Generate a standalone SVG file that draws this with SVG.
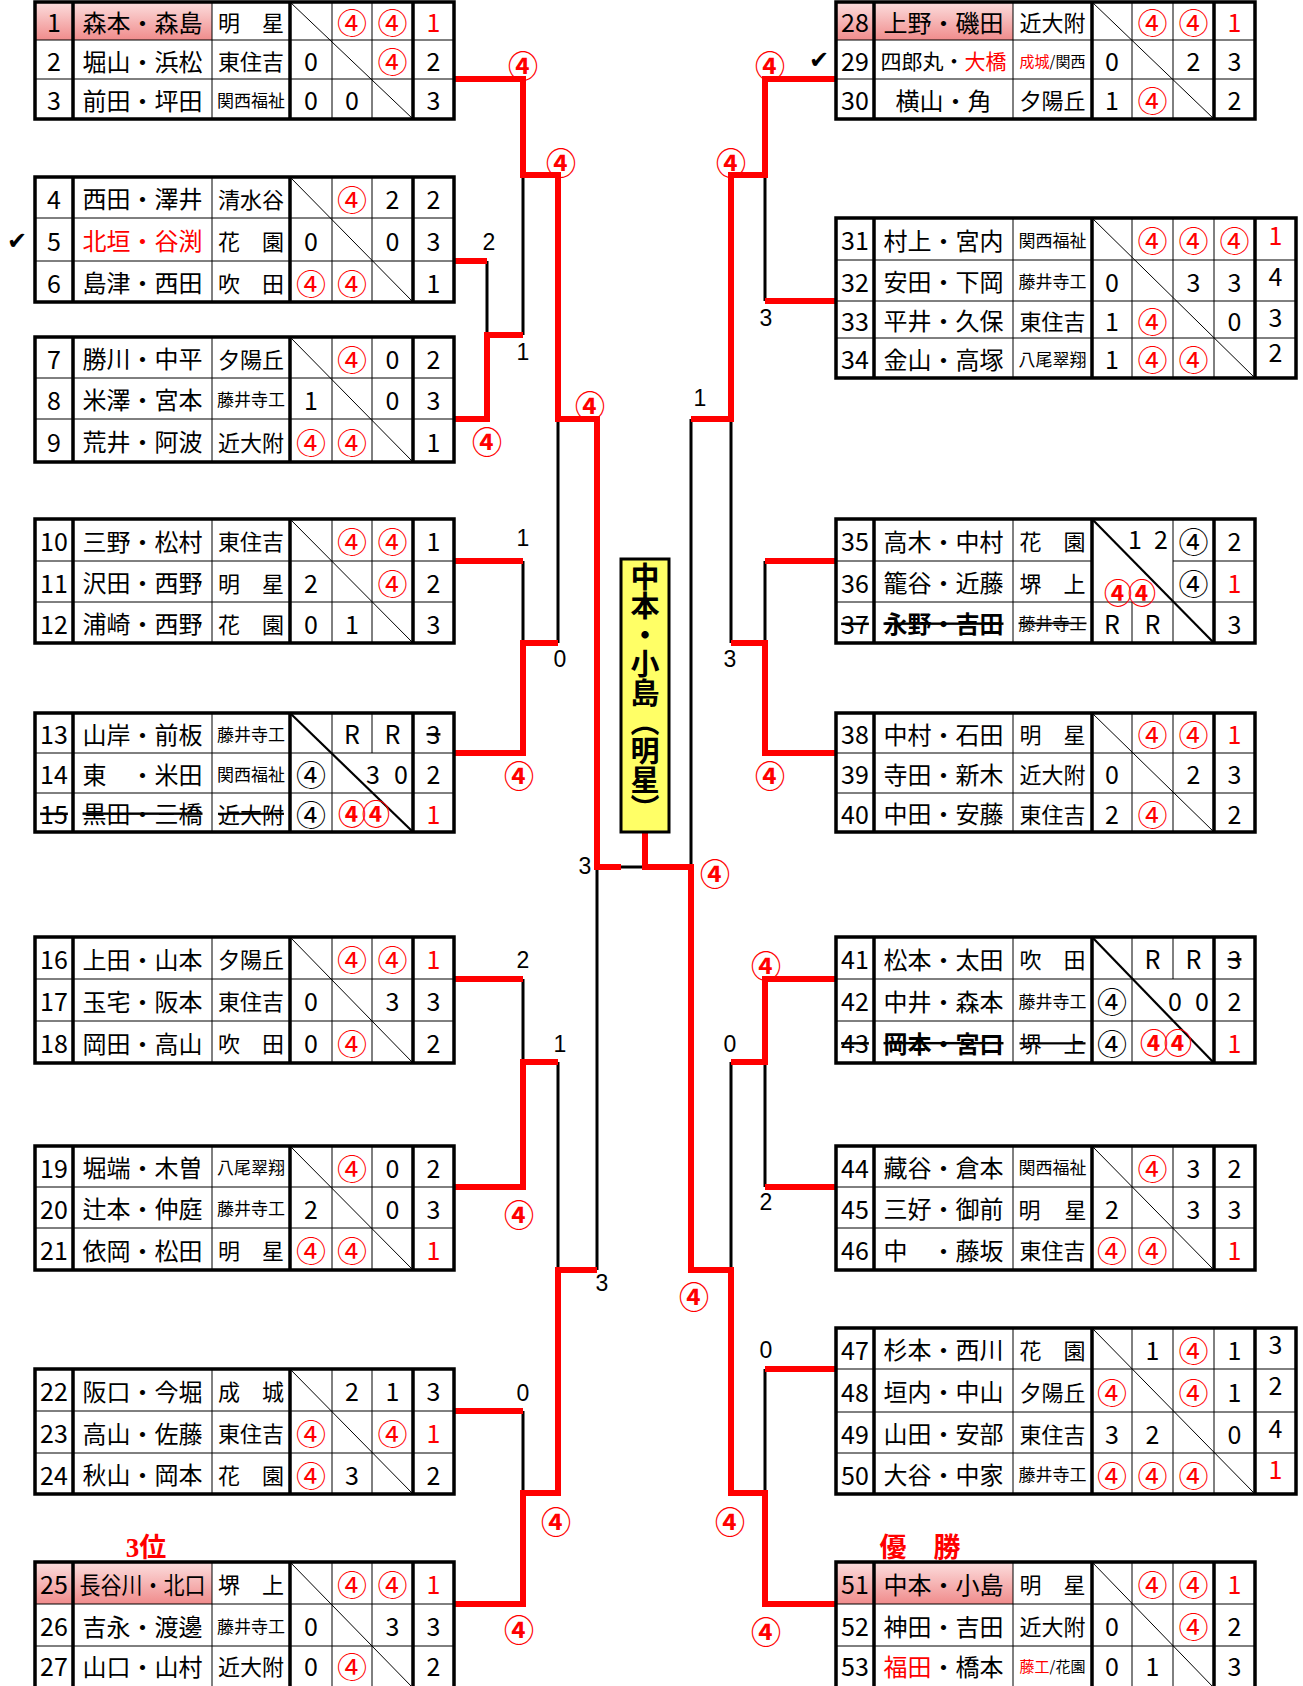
<svg xmlns="http://www.w3.org/2000/svg" width="1303" height="1686" viewBox="0 0 1303 1686">
<defs>
<linearGradient id="pk" x1="0" y1="0" x2="0" y2="1"><stop offset="0" stop-color="#fcdede"/><stop offset="1" stop-color="#f08c8c"/></linearGradient>
<style>
text{font-family:"Noto Sans CJK JP","Noto Sans",sans-serif;text-anchor:middle;dominant-baseline:central;fill:#000}
.d{font-size:25px}
.nm{font-size:24px}
.sc{font-size:22px}
.sm{font-size:17px}
.xs{font-size:15px}
.r{fill:#f00}
.c{font-size:30px;fill:#f00}
.cb{font-size:30px}
.bb{font-size:28px;font-weight:700;fill:#f00;letter-spacing:-4px}
.bd{font-weight:700}
.st{text-decoration:line-through}
.lb{font-size:30px;font-weight:700;fill:#f00}
.ln{font-family:"Liberation Sans",Arial,sans-serif;font-size:23px}
.ck{font-family:"DejaVu Sans",sans-serif;font-size:24px}
.o{fill:none;stroke:#000;stroke-width:3.5}
.t{fill:none;stroke:#000;stroke-width:1}
.k{fill:none;stroke:#000;stroke-width:3.5}
.dg{fill:none;stroke:#000;stroke-width:2.2}
.w{fill:none;stroke:#f00;stroke-width:6}
.l{fill:none;stroke:#000;stroke-width:3}
.pk{fill:url(#pk)}
.ttl{font-size:27px;font-weight:700;fill:#f00;font-family:"Liberation Serif","Noto Sans CJK JP",serif}
</style>
</defs>
<rect width="1303" height="1686" fill="#fff"/>

<g id="connectors">
<path class="l" d="M487 261V335M523 175V335M523 561V643M558 419V643M523 979V1062M558 1062V1270M523 1411V1493M597 867V1270M621 867H645M765 175V301M731 419V643M691 419V867M765 561V643M765 1062V1187M731 1062V1270M765 1369V1493"/>
<path class="w" d="M454 79H523V175H558V419H597V867H621"/>
<path class="w" d="M454 419H487V335H523"/>
<path class="w" d="M454 261H487"/>
<path class="w" d="M454 561H523"/>
<path class="w" d="M454 753H523V643H558"/>
<path class="w" d="M454 979H523"/>
<path class="w" d="M454 1187H523V1062H558"/>
<path class="w" d="M454 1411H523"/>
<path class="w" d="M454 1604H523V1493H558V1270H597"/>
<path class="w" d="M645 832V867H691V1270H731V1493H765V1604H836"/>
<path class="w" d="M836 79H765V175H731V419H691"/>
<path class="w" d="M836 301H765"/>
<path class="w" d="M836 561H765"/>
<path class="w" d="M836 753H765V643H731"/>
<path class="w" d="M836 979H765V1062H731"/>
<path class="w" d="M836 1187H765"/>
<path class="w" d="M836 1369H765"/>
</g>

<g id="champion">
<rect x="621" y="559" width="48" height="273" fill="#ffff66" stroke="#000" stroke-width="3"/>
<text x="645" y="562" style="writing-mode:vertical-rl;text-anchor:start;font-size:29px;font-weight:700">中本・小島（明星）</text>
</g>

<g id="bracket-labels">
<text class="lb" x="523" y="64">④</text>
<text class="lb" x="561" y="161">④</text>
<text class="ln" x="489" y="242">2</text>
<text class="ln" x="523" y="352">1</text>
<text class="lb" x="487" y="440">④</text>
<text class="lb" x="590" y="404">④</text>
<text class="ln" x="523" y="538">1</text>
<text class="ln" x="560" y="659">0</text>
<text class="lb" x="519" y="774">④</text>
<text class="ln" x="585" y="866">3</text>
<text class="ln" x="523" y="960">2</text>
<text class="ln" x="560" y="1044">1</text>
<text class="lb" x="519" y="1213">④</text>
<text class="ln" x="602" y="1283">3</text>
<text class="ln" x="523" y="1393">0</text>
<text class="lb" x="556" y="1520">④</text>
<text class="lb" x="519" y="1628">④</text>
<text class="lb" x="770" y="64">④</text>
<text class="ck" x="819" y="60">✔</text>
<text class="lb" x="731" y="161">④</text>
<text class="ln" x="766" y="318">3</text>
<text class="ln" x="700" y="398">1</text>
<text class="ln" x="730" y="659">3</text>
<text class="lb" x="770" y="774">④</text>
<text class="lb" x="715" y="872">④</text>
<text class="lb" x="766" y="964">④</text>
<text class="ln" x="730" y="1044">0</text>
<text class="ln" x="766" y="1202">2</text>
<text class="lb" x="694" y="1295">④</text>
<text class="ln" x="766" y="1350">0</text>
<text class="lb" x="730" y="1520">④</text>
<text class="lb" x="766" y="1630">④</text>
<text class="ck" x="17" y="241">✔</text>
<text class="ttl" x="146" y="1548">3位</text>
<text class="ttl" x="920" y="1548">優　勝</text>
</g>

<g id="group-1-3">
<rect class="pk" x="35" y="2" width="177" height="38"/>
<path class="t" d="M35 40H454M35 79H454M212 2V119M332 2V119M372 2V119M290 2L413 119"/>
<path class="k" d="M73 2V119M290 2V119M413 2V119"/>
<rect class="o" x="35" y="2" width="419" height="117"/>
<text class="d" x="54" y="21">1</text><text class="nm" x="142.5" y="21">森本・森島</text><text class="sc" x="251" y="21">明　星</text><text class="c" x="352" y="21">④</text><text class="c" x="392.5" y="21">④</text><text class="d r" x="433.5" y="21">1</text>
<text class="d" x="54" y="60">2</text><text class="nm" x="142.5" y="60">堀山・浜松</text><text class="sc" x="251" y="60">東住吉</text><text class="d" x="311" y="60">0</text><text class="c" x="392.5" y="60">④</text><text class="d" x="433.5" y="60">2</text>
<text class="d" x="54" y="99">3</text><text class="nm" x="142.5" y="99">前田・坪田</text><text class="sm" x="251" y="99">関西福祉</text><text class="d" x="311" y="99">0</text><text class="d" x="352" y="99">0</text><text class="d" x="433.5" y="99">3</text>
</g>

<g id="group-4-6">
<path class="t" d="M35 218H454M35 261H454M212 177V302M332 177V302M372 177V302M290 177L413 302"/>
<path class="k" d="M73 177V302M290 177V302M413 177V302"/>
<rect class="o" x="35" y="177" width="419" height="125"/>
<text class="d" x="54" y="197.5">4</text><text class="nm" x="142.5" y="197.5">西田・澤井</text><text class="sc" x="251" y="197.5">清水谷</text><text class="c" x="352" y="197.5">④</text><text class="d" x="392.5" y="197.5">2</text><text class="d" x="433.5" y="197.5">2</text>
<text class="d" x="54" y="239.5">5</text><text class="nm r" x="142.5" y="239.5">北垣・谷渕</text><text class="sc" x="251" y="239.5">花　園</text><text class="d" x="311" y="239.5">0</text><text class="d" x="392.5" y="239.5">0</text><text class="d" x="433.5" y="239.5">3</text>
<text class="d" x="54" y="281.5">6</text><text class="nm" x="142.5" y="281.5">島津・西田</text><text class="sc" x="251" y="281.5">吹　田</text><text class="c" x="311" y="281.5">④</text><text class="c" x="352" y="281.5">④</text><text class="d" x="433.5" y="281.5">1</text>
</g>

<g id="group-7-9">
<path class="t" d="M35 378H454M35 419H454M212 337V462M332 337V462M372 337V462M290 337L413 462"/>
<path class="k" d="M73 337V462M290 337V462M413 337V462"/>
<rect class="o" x="35" y="337" width="419" height="125"/>
<text class="d" x="54" y="357.5">7</text><text class="nm" x="142.5" y="357.5">勝川・中平</text><text class="sc" x="251" y="357.5">夕陽丘</text><text class="c" x="352" y="357.5">④</text><text class="d" x="392.5" y="357.5">0</text><text class="d" x="433.5" y="357.5">2</text>
<text class="d" x="54" y="398.5">8</text><text class="nm" x="142.5" y="398.5">米澤・宮本</text><text class="sm" x="251" y="398.5">藤井寺工</text><text class="d" x="311" y="398.5">1</text><text class="d" x="392.5" y="398.5">0</text><text class="d" x="433.5" y="398.5">3</text>
<text class="d" x="54" y="440.5">9</text><text class="nm" x="142.5" y="440.5">荒井・阿波</text><text class="sc" x="251" y="440.5">近大附</text><text class="c" x="311" y="440.5">④</text><text class="c" x="352" y="440.5">④</text><text class="d" x="433.5" y="440.5">1</text>
</g>

<g id="group-10-12">
<path class="t" d="M35 561H454M35 602H454M212 519V643M332 519V643M372 519V643M290 519L413 643"/>
<path class="k" d="M73 519V643M290 519V643M413 519V643"/>
<rect class="o" x="35" y="519" width="419" height="124"/>
<text class="d" x="54" y="540">10</text><text class="nm" x="142.5" y="540">三野・松村</text><text class="sc" x="251" y="540">東住吉</text><text class="c" x="352" y="540">④</text><text class="c" x="392.5" y="540">④</text><text class="d" x="433.5" y="540">1</text>
<text class="d" x="54" y="581.5">11</text><text class="nm" x="142.5" y="581.5">沢田・西野</text><text class="sc" x="251" y="581.5">明　星</text><text class="d" x="311" y="581.5">2</text><text class="c" x="392.5" y="581.5">④</text><text class="d" x="433.5" y="581.5">2</text>
<text class="d" x="54" y="622.5">12</text><text class="nm" x="142.5" y="622.5">浦崎・西野</text><text class="sc" x="251" y="622.5">花　園</text><text class="d" x="311" y="622.5">0</text><text class="d" x="352" y="622.5">1</text><text class="d" x="433.5" y="622.5">3</text>
</g>

<g id="group-13-15">
<path class="t" d="M35 753H454M35 793H454M212 713V832M332 713V832M372 713V753"/>
<path class="dg" d="M290 713L413 832"/>
<path class="k" d="M73 713V832M290 713V832M413 713V832"/>
<rect class="o" x="35" y="713" width="419" height="119"/>
<text class="d" x="54" y="733">13</text><text class="nm" x="142.5" y="733">山岸・前板</text><text class="sm" x="251" y="733">藤井寺工</text><text class="d" x="352" y="733">R</text><text class="d" x="392.5" y="733">R</text><text class="d st" x="433.5" y="733">3</text>
<text class="d" x="54" y="773">14</text><text class="nm" x="142.5" y="773">東　・米田</text><text class="sm" x="251" y="773">関西福祉</text><text class="cb" x="311" y="773">④</text><text class="d" x="373" y="773">3</text><text class="d" x="401" y="773">0</text><text class="d" x="433.5" y="773">2</text>
<text class="d st" x="54" y="812.5">15</text><text class="nm st" x="142.5" y="812.5">黒田・三橋</text><text class="sc st" x="251" y="812.5">近大附</text><text class="cb" x="311" y="812.5">④</text><text class="bb" x="362" y="812.5">④④</text><text class="d r" x="433.5" y="812.5">1</text>
</g>

<g id="group-16-18">
<path class="t" d="M35 979H454M35 1021H454M212 937V1063M332 937V1063M372 937V1063M290 937L413 1063"/>
<path class="k" d="M73 937V1063M290 937V1063M413 937V1063"/>
<rect class="o" x="35" y="937" width="419" height="126"/>
<text class="d" x="54" y="958">16</text><text class="nm" x="142.5" y="958">上田・山本</text><text class="sc" x="251" y="958">夕陽丘</text><text class="c" x="352" y="958">④</text><text class="c" x="392.5" y="958">④</text><text class="d r" x="433.5" y="958">1</text>
<text class="d" x="54" y="1000">17</text><text class="nm" x="142.5" y="1000">玉宅・阪本</text><text class="sc" x="251" y="1000">東住吉</text><text class="d" x="311" y="1000">0</text><text class="d" x="392.5" y="1000">3</text><text class="d" x="433.5" y="1000">3</text>
<text class="d" x="54" y="1042">18</text><text class="nm" x="142.5" y="1042">岡田・高山</text><text class="sc" x="251" y="1042">吹　田</text><text class="d" x="311" y="1042">0</text><text class="c" x="352" y="1042">④</text><text class="d" x="433.5" y="1042">2</text>
</g>

<g id="group-19-21">
<path class="t" d="M35 1187H454M35 1228H454M212 1146V1270M332 1146V1270M372 1146V1270M290 1146L413 1270"/>
<path class="k" d="M73 1146V1270M290 1146V1270M413 1146V1270"/>
<rect class="o" x="35" y="1146" width="419" height="124"/>
<text class="d" x="54" y="1166.5">19</text><text class="nm" x="142.5" y="1166.5">堀端・木曽</text><text class="sm" x="251" y="1166.5">八尾翠翔</text><text class="c" x="352" y="1166.5">④</text><text class="d" x="392.5" y="1166.5">0</text><text class="d" x="433.5" y="1166.5">2</text>
<text class="d" x="54" y="1207.5">20</text><text class="nm" x="142.5" y="1207.5">辻本・仲庭</text><text class="sm" x="251" y="1207.5">藤井寺工</text><text class="d" x="311" y="1207.5">2</text><text class="d" x="392.5" y="1207.5">0</text><text class="d" x="433.5" y="1207.5">3</text>
<text class="d" x="54" y="1249">21</text><text class="nm" x="142.5" y="1249">依岡・松田</text><text class="sc" x="251" y="1249">明　星</text><text class="c" x="311" y="1249">④</text><text class="c" x="352" y="1249">④</text><text class="d r" x="433.5" y="1249">1</text>
</g>

<g id="group-22-24">
<path class="t" d="M35 1411H454M35 1453H454M212 1369V1494M332 1369V1494M372 1369V1494M290 1369L413 1494"/>
<path class="k" d="M73 1369V1494M290 1369V1494M413 1369V1494"/>
<rect class="o" x="35" y="1369" width="419" height="125"/>
<text class="d" x="54" y="1390">22</text><text class="nm" x="142.5" y="1390">阪口・今堀</text><text class="sc" x="251" y="1390">成　城</text><text class="d" x="352" y="1390">2</text><text class="d" x="392.5" y="1390">1</text><text class="d" x="433.5" y="1390">3</text>
<text class="d" x="54" y="1432">23</text><text class="nm" x="142.5" y="1432">高山・佐藤</text><text class="sc" x="251" y="1432">東住吉</text><text class="c" x="311" y="1432">④</text><text class="c" x="392.5" y="1432">④</text><text class="d r" x="433.5" y="1432">1</text>
<text class="d" x="54" y="1473.5">24</text><text class="nm" x="142.5" y="1473.5">秋山・岡本</text><text class="sc" x="251" y="1473.5">花　園</text><text class="c" x="311" y="1473.5">④</text><text class="d" x="352" y="1473.5">3</text><text class="d" x="433.5" y="1473.5">2</text>
</g>

<g id="group-25-27">
<rect class="pk" x="35" y="1562" width="177" height="42"/>
<path class="t" d="M35 1604H454M35 1646H454M212 1562V1688M332 1562V1688M372 1562V1688M290 1562L413 1688"/>
<path class="k" d="M73 1562V1688M290 1562V1688M413 1562V1688"/>
<rect class="o" x="35" y="1562" width="419" height="126"/>
<text class="d" x="54" y="1583">25</text><text class="nm" x="142.5" y="1583" textLength="126" lengthAdjust="spacingAndGlyphs">長谷川・北口</text><text class="sc" x="251" y="1583">堺　上</text><text class="c" x="352" y="1583">④</text><text class="c" x="392.5" y="1583">④</text><text class="d r" x="433.5" y="1583">1</text>
<text class="d" x="54" y="1625">26</text><text class="nm" x="142.5" y="1625">吉永・渡邊</text><text class="sm" x="251" y="1625">藤井寺工</text><text class="d" x="311" y="1625">0</text><text class="d" x="392.5" y="1625">3</text><text class="d" x="433.5" y="1625">3</text>
<text class="d" x="54" y="1665">27</text><text class="nm" x="142.5" y="1665">山口・山村</text><text class="sc" x="251" y="1665">近大附</text><text class="d" x="311" y="1665">0</text><text class="c" x="352" y="1665">④</text><text class="d" x="433.5" y="1665">2</text>
</g>

<g id="group-28-30">
<rect class="pk" x="836" y="2" width="177" height="38"/>
<path class="t" d="M836 40H1255M836 79H1255M1013 2V119M1132 2V119M1173 2V119M1092 2L1214 119"/>
<path class="k" d="M874 2V119M1092 2V119M1214 2V119"/>
<rect class="o" x="836" y="2" width="419" height="117"/>
<text class="d" x="855" y="21">28</text><text class="nm" x="943.5" y="21">上野・磯田</text><text class="sc" x="1052.5" y="21">近大附</text><text class="c" x="1152.5" y="21">④</text><text class="c" x="1193.5" y="21">④</text><text class="d r" x="1234.5" y="21">1</text>
<text class="d" x="855" y="60">29</text><text x="943.5" y="60" style="font-size:21px">四郎丸・<tspan class="r">大橋</tspan></text><text class="xs" x="1052.5" y="60"><tspan class="r">成城</tspan>/関西</text><text class="d" x="1112" y="60">0</text><text class="d" x="1193.5" y="60">2</text><text class="d" x="1234.5" y="60">3</text>
<text class="d" x="855" y="99">30</text><text class="nm" x="943.5" y="99">横山・角</text><text class="sc" x="1052.5" y="99">夕陽丘</text><text class="d" x="1112" y="99">1</text><text class="c" x="1152.5" y="99">④</text><text class="d" x="1234.5" y="99">2</text>
</g>

<g id="group-31-34">
<path class="t" d="M836 260H1296M836 301H1296M836 338H1296M1013 218V378M1132 218V378M1173 218V378M1214 218V378M1092 218L1255 378"/>
<path class="k" d="M874 218V378M1092 218V378M1255 218V378"/>
<rect class="o" x="836" y="218" width="460" height="160"/>
<text class="d" x="855" y="239">31</text><text class="nm" x="943.5" y="239">村上・宮内</text><text class="sm" x="1052.5" y="239">関西福祉</text><text class="c" x="1152.5" y="239">④</text><text class="c" x="1193.5" y="239">④</text><text class="c" x="1234.5" y="239">④</text><text class="d r" x="1275.5" y="234">1</text>
<text class="d" x="855" y="280.5">32</text><text class="nm" x="943.5" y="280.5">安田・下岡</text><text class="sm" x="1052.5" y="280.5">藤井寺工</text><text class="d" x="1112" y="280.5">0</text><text class="d" x="1193.5" y="280.5">3</text><text class="d" x="1234.5" y="280.5">3</text><text class="d" x="1275.5" y="275">4</text>
<text class="d" x="855" y="319.5">33</text><text class="nm" x="943.5" y="319.5">平井・久保</text><text class="sc" x="1052.5" y="319.5">東住吉</text><text class="d" x="1112" y="319.5">1</text><text class="c" x="1152.5" y="319.5">④</text><text class="d" x="1234.5" y="319.5">0</text><text class="d" x="1275.5" y="316">3</text>
<text class="d" x="855" y="358">34</text><text class="nm" x="943.5" y="358">金山・高塚</text><text class="sm" x="1052.5" y="358">八尾翠翔</text><text class="d" x="1112" y="358">1</text><text class="c" x="1152.5" y="358">④</text><text class="c" x="1193.5" y="358">④</text><text class="d" x="1275.5" y="351">2</text>
</g>

<g id="group-35-37">
<path class="t" d="M836 561H1092M1173 561H1255M836 602H1255M1013 519V643M1132 602V643M1173 519V643"/>
<path class="dg" d="M1092 519L1214 643"/>
<path class="k" d="M874 519V643M1092 519V643M1214 519V643"/>
<rect class="o" x="836" y="519" width="419" height="124"/>
<text class="d" x="855" y="540">35</text><text class="nm" x="943.5" y="540">高木・中村</text><text class="sc" x="1052.5" y="540">花　園</text><text class="d" x="1135" y="538">1</text><text class="d" x="1161" y="538">2</text><text class="cb" x="1193.5" y="540">④</text><text class="d" x="1234.5" y="540">2</text>
<text class="d" x="855" y="581.5">36</text><text class="nm" x="943.5" y="581.5">籠谷・近藤</text><text class="sc" x="1052.5" y="581.5">堺　上</text><text class="bb" x="1128" y="592">④④</text><text class="cb" x="1193.5" y="581.5">④</text><text class="d r" x="1234.5" y="581.5">1</text>
<text class="d st" x="855" y="622.5">37</text><text class="nm st bd" x="943.5" y="622.5">永野・吉田</text><text class="sm st" x="1052.5" y="622.5">藤井寺工</text><text class="d" x="1112" y="622.5">R</text><text class="d" x="1152.5" y="622.5">R</text><text class="d" x="1234.5" y="622.5">3</text>
</g>

<g id="group-38-40">
<path class="t" d="M836 753H1255M836 793H1255M1013 713V832M1132 713V832M1173 713V832M1092 713L1214 832"/>
<path class="k" d="M874 713V832M1092 713V832M1214 713V832"/>
<rect class="o" x="836" y="713" width="419" height="119"/>
<text class="d" x="855" y="733">38</text><text class="nm" x="943.5" y="733">中村・石田</text><text class="sc" x="1052.5" y="733">明　星</text><text class="c" x="1152.5" y="733">④</text><text class="c" x="1193.5" y="733">④</text><text class="d r" x="1234.5" y="733">1</text>
<text class="d" x="855" y="773">39</text><text class="nm" x="943.5" y="773">寺田・新木</text><text class="sc" x="1052.5" y="773">近大附</text><text class="d" x="1112" y="773">0</text><text class="d" x="1193.5" y="773">2</text><text class="d" x="1234.5" y="773">3</text>
<text class="d" x="855" y="812.5">40</text><text class="nm" x="943.5" y="812.5">中田・安藤</text><text class="sc" x="1052.5" y="812.5">東住吉</text><text class="d" x="1112" y="812.5">2</text><text class="c" x="1152.5" y="812.5">④</text><text class="d" x="1234.5" y="812.5">2</text>
</g>

<g id="group-41-43">
<path class="t" d="M836 979H1255M836 1021H1255M1013 937V1063M1132 937V1063M1173 937V979"/>
<path class="dg" d="M1092 937L1214 1063"/>
<path class="k" d="M874 937V1063M1092 937V1063M1214 937V1063"/>
<rect class="o" x="836" y="937" width="419" height="126"/>
<text class="d" x="855" y="958">41</text><text class="nm" x="943.5" y="958">松本・太田</text><text class="sc" x="1052.5" y="958">吹　田</text><text class="d" x="1152.5" y="958">R</text><text class="d" x="1193.5" y="958">R</text><text class="d st" x="1234.5" y="958">3</text>
<text class="d" x="855" y="1000">42</text><text class="nm" x="943.5" y="1000">中井・森本</text><text class="sm" x="1052.5" y="1000">藤井寺工</text><text class="cb" x="1112" y="1000">④</text><text class="d" x="1175" y="1000">0</text><text class="d" x="1202" y="1000">0</text><text class="d" x="1234.5" y="1000">2</text>
<text class="d st" x="855" y="1042">43</text><text class="nm st bd" x="943.5" y="1042">岡本・宮口</text><text class="sc st" x="1052.5" y="1042">堺　上</text><text class="cb" x="1112" y="1042">④</text><text class="bb" x="1164" y="1042">④④</text><text class="d r" x="1234.5" y="1042">1</text>
</g>

<g id="group-44-46">
<path class="t" d="M836 1187H1255M836 1228H1255M1013 1146V1270M1132 1146V1270M1173 1146V1270M1092 1146L1214 1270"/>
<path class="k" d="M874 1146V1270M1092 1146V1270M1214 1146V1270"/>
<rect class="o" x="836" y="1146" width="419" height="124"/>
<text class="d" x="855" y="1166.5">44</text><text class="nm" x="943.5" y="1166.5">藏谷・倉本</text><text class="sm" x="1052.5" y="1166.5">関西福祉</text><text class="c" x="1152.5" y="1166.5">④</text><text class="d" x="1193.5" y="1166.5">3</text><text class="d" x="1234.5" y="1166.5">2</text>
<text class="d" x="855" y="1207.5">45</text><text class="nm" x="943.5" y="1207.5">三好・御前</text><text class="sc" x="1052.5" y="1207.5" textLength="68" lengthAdjust="spacing">明　　星</text><text class="d" x="1112" y="1207.5">2</text><text class="d" x="1193.5" y="1207.5">3</text><text class="d" x="1234.5" y="1207.5">3</text>
<text class="d" x="855" y="1249">46</text><text class="nm" x="943.5" y="1249">中　・藤坂</text><text class="sc" x="1052.5" y="1249">東住吉</text><text class="c" x="1112" y="1249">④</text><text class="c" x="1152.5" y="1249">④</text><text class="d r" x="1234.5" y="1249">1</text>
</g>

<g id="group-47-50">
<path class="t" d="M836 1369H1296M836 1412H1296M836 1453H1296M1013 1328V1494M1132 1328V1494M1173 1328V1494M1214 1328V1494M1092 1328L1255 1494"/>
<path class="k" d="M874 1328V1494M1092 1328V1494M1255 1328V1494"/>
<rect class="o" x="836" y="1328" width="460" height="166"/>
<text class="d" x="855" y="1348.5">47</text><text class="nm" x="943.5" y="1348.5">杉本・西川</text><text class="sc" x="1052.5" y="1348.5">花　園</text><text class="d" x="1152.5" y="1348.5">1</text><text class="c" x="1193.5" y="1348.5">④</text><text class="d" x="1234.5" y="1348.5">1</text><text class="d" x="1275.5" y="1343">3</text>
<text class="d" x="855" y="1390.5">48</text><text class="nm" x="943.5" y="1390.5">垣内・中山</text><text class="sc" x="1052.5" y="1390.5">夕陽丘</text><text class="c" x="1112" y="1390.5">④</text><text class="c" x="1193.5" y="1390.5">④</text><text class="d" x="1234.5" y="1390.5">1</text><text class="d" x="1275.5" y="1384">2</text>
<text class="d" x="855" y="1432.5">49</text><text class="nm" x="943.5" y="1432.5">山田・安部</text><text class="sc" x="1052.5" y="1432.5">東住吉</text><text class="d" x="1112" y="1432.5">3</text><text class="d" x="1152.5" y="1432.5">2</text><text class="d" x="1234.5" y="1432.5">0</text><text class="d" x="1275.5" y="1427">4</text>
<text class="d" x="855" y="1473.5">50</text><text class="nm" x="943.5" y="1473.5">大谷・中家</text><text class="sm" x="1052.5" y="1473.5">藤井寺工</text><text class="c" x="1112" y="1473.5">④</text><text class="c" x="1152.5" y="1473.5">④</text><text class="c" x="1193.5" y="1473.5">④</text><text class="d r" x="1275.5" y="1468">1</text>
</g>

<g id="group-51-53">
<rect class="pk" x="836" y="1562" width="177" height="42"/>
<path class="t" d="M836 1604H1255M836 1646H1255M1013 1562V1688M1132 1562V1688M1173 1562V1688M1092 1562L1214 1688"/>
<path class="k" d="M874 1562V1688M1092 1562V1688M1214 1562V1688"/>
<rect class="o" x="836" y="1562" width="419" height="126"/>
<text class="d" x="855" y="1583">51</text><text class="nm" x="943.5" y="1583">中本・小島</text><text class="sc" x="1052.5" y="1583">明　星</text><text class="c" x="1152.5" y="1583">④</text><text class="c" x="1193.5" y="1583">④</text><text class="d r" x="1234.5" y="1583">1</text>
<text class="d" x="855" y="1625">52</text><text class="nm" x="943.5" y="1625">神田・吉田</text><text class="sc" x="1052.5" y="1625">近大附</text><text class="d" x="1112" y="1625">0</text><text class="c" x="1193.5" y="1625">④</text><text class="d" x="1234.5" y="1625">2</text>
<text class="d" x="855" y="1665">53</text><text class="nm" x="943.5" y="1665"><tspan class="r">福田</tspan>・橋本</text><text class="xs" x="1052.5" y="1665"><tspan class="r">藤工</tspan>/花園</text><text class="d" x="1112" y="1665">0</text><text class="d" x="1152.5" y="1665">1</text><text class="d" x="1234.5" y="1665">3</text>
</g>
</svg>
